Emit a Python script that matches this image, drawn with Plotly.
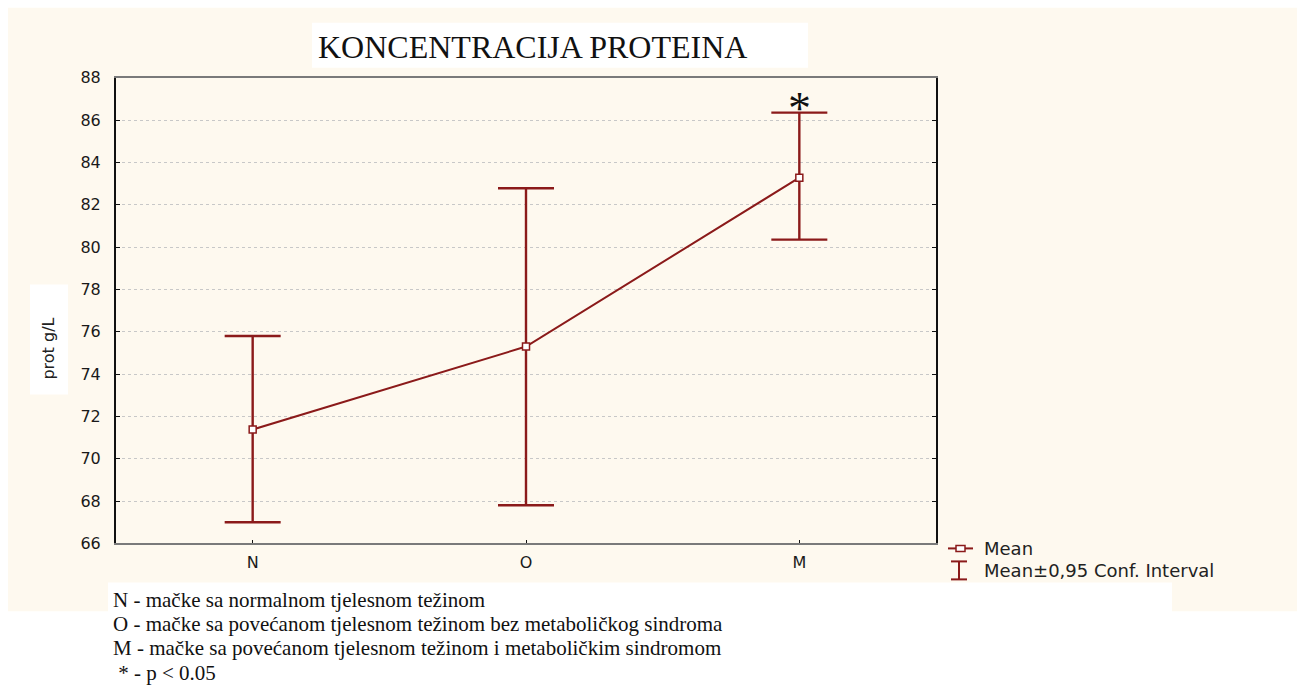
import plotly.graph_objects as go

categories = ["N", "O", "M"]
means = [71.38, 75.3, 83.28]
ci_upper = [75.8, 82.78, 86.35]
ci_lower = [67.0, 67.8, 80.35]
y_ticks = list(range(66, 89, 2))

W, H = 1300, 686
RED = "#8B1A1A"
CREAM = "#FEF9EF"
# measured vertical offset/scale of the rendering environment
Y_OFF, Y_SCALE = 9.2, 0.973

def px(x):
    return x / W

def py(y):
    return 1 - ((y - Y_OFF) / Y_SCALE) / H

err_plus = [u - m for u, m in zip(ci_upper, means)]
err_minus = [m - l for m, l in zip(means, ci_lower)]

fig = go.Figure()
fig.add_trace(go.Scatter(
    x=categories, y=means, mode="lines+markers",
    line=dict(color=RED, width=2),
    marker=dict(symbol="square", size=7, color="white", line=dict(color=RED, width=1.5)),
    error_y=dict(type="data", symmetric=False, array=err_plus, arrayminus=err_minus,
                 color=RED, thickness=2.4, width=28),
    showlegend=False,
))

shapes = [
    dict(type="rect", xref="paper", yref="paper", x0=px(8), x1=px(1297), y0=py(612), y1=py(8),
         fillcolor=CREAM, line=dict(width=0), layer="below"),
    dict(type="rect", xref="paper", yref="paper", x0=px(108), x1=px(1172), y0=0, y1=py(583),
         fillcolor="white", line=dict(width=0), layer="below"),
    dict(type="rect", xref="paper", yref="paper", x0=px(312), x1=px(808), y0=py(68), y1=py(23),
         fillcolor="white", line=dict(width=0), layer="below"),
    dict(type="rect", xref="paper", yref="paper", x0=px(30), x1=px(68), y0=py(395), y1=py(285),
         fillcolor="white", line=dict(width=0), layer="below"),
    dict(type="line", xref="paper", yref="paper", x0=px(948), x1=px(973), y0=py(549), y1=py(549),
         line=dict(color=RED, width=2)),
    dict(type="rect", xref="paper", yref="paper", x0=px(956), x1=px(965), y0=py(552), y1=py(546),
         fillcolor="white", line=dict(color=RED, width=1.5)),
    dict(type="line", xref="paper", yref="paper", x0=px(959), x1=px(959), y0=py(580), y1=py(562),
         line=dict(color=RED, width=2)),
    dict(type="line", xref="paper", yref="paper", x0=px(951), x1=px(967), y0=py(562), y1=py(562),
         line=dict(color=RED, width=2)),
    dict(type="line", xref="paper", yref="paper", x0=px(951), x1=px(967), y0=py(580), y1=py(580),
         line=dict(color=RED, width=2)),
]

annotations = [
    dict(text="KONCENTRACIJA PROTEINA", xref="paper", yref="paper", x=px(316), y=py(47),
         showarrow=False, font=dict(family="Liberation Serif", size=32, color="#111"),
         xanchor="left", yanchor="middle"),
    dict(text="prot g/L", xref="paper", yref="paper", x=px(49), y=py(349), textangle=-90,
         showarrow=False, font=dict(family="DejaVu Sans", size=16, color="#222"),
         xanchor="center", yanchor="middle"),
    dict(text="*", xref="x", yref="paper", x="M", y=py(100), showarrow=False,
         font=dict(family="Liberation Serif", size=46, color="#111"),
         xanchor="center", yanchor="middle", yshift=-9),
    dict(text="Mean", xref="paper", yref="paper", x=px(982), y=py(549), showarrow=False,
         font=dict(family="DejaVu Sans", size=18, color="#222"), xanchor="left", yanchor="middle"),
    dict(text="Mean±0,95 Conf. Interval", xref="paper", yref="paper", x=px(982), y=py(571),
         showarrow=False, font=dict(family="DejaVu Sans", size=18, color="#222"),
         xanchor="left", yanchor="middle"),
]

foot_lines = [
    "N - mačke sa normalnom tjelesnom težinom",
    "O - mačke sa povećanom tjelesnom težinom bez metaboličkog sindroma",
    "M - mačke sa povećanom tjelesnom težinom i metaboličkim sindromom",
    " * - p < 0.05",
]
foot_y = [601, 625, 649, 674]
for t, yy in zip(foot_lines, foot_y):
    annotations.append(dict(text=t, xref="paper", yref="paper", x=px(111), y=py(yy), showarrow=False,
                            font=dict(family="Liberation Serif", size=21, color="#111"),
                            xanchor="left", yanchor="middle"))

fig.update_layout(
    width=W, height=H,
    margin=dict(l=0, r=0, t=0, b=0),
    paper_bgcolor="white", plot_bgcolor="white",
    shapes=shapes, annotations=annotations,
    xaxis=dict(domain=[px(116), px(936)], range=[-0.5, 2.5], type="category",
               showgrid=False, showline=True, linecolor="#7a7a7a", linewidth=2, mirror=True,
               ticks="inside", ticklen=3, tickcolor="#111", ticklabelstandoff=3,
               tickfont=dict(family="DejaVu Sans", size=16, color="#1a1a1a"), zeroline=False),
    yaxis=dict(domain=[py(544), py(78)], range=[66, 88], tickvals=y_ticks,
               showgrid=True, gridcolor="#c8c8c8", griddash="dot", gridwidth=1,
               showline=True, linecolor="#111", linewidth=2, mirror="ticks",
               ticks="inside", ticklen=4, tickcolor="#111", ticklabelstandoff=10,
               tickfont=dict(family="DejaVu Sans", size=16, color="#1a1a1a"), zeroline=False),
)

fig.write_html("out.html", config={"displayModeBar": False},
               post_script="document.body.style.margin='0';document.body.style.overflow='hidden';")
